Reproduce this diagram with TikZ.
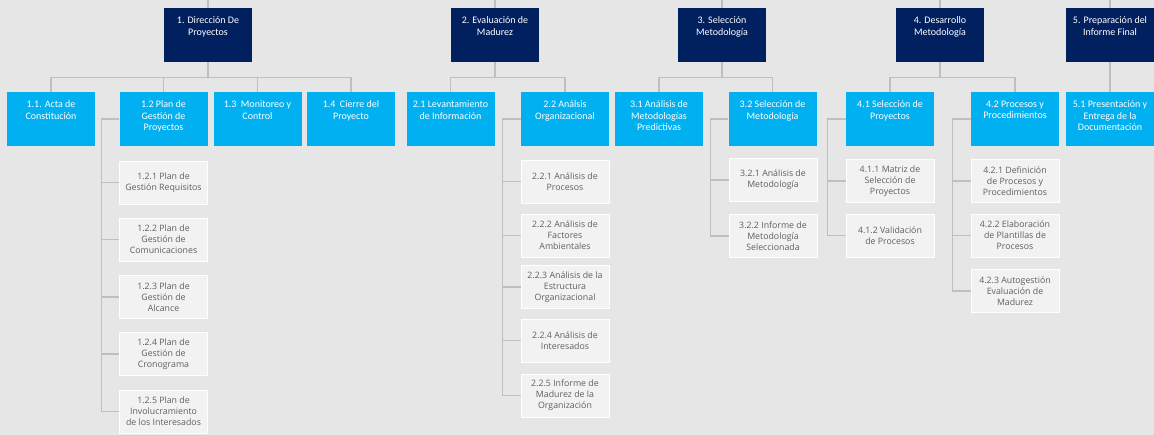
\documentclass[tikz,border=0pt]{standalone}
\usepackage{fontspec}
\setmainfont{Carlito}
\newfontfamily\subfont{Open Sans}
\usetikzlibrary{positioning, calc}

\definecolor{pagebg}{HTML}{E7E6E6}
\definecolor{navy}{HTML}{002060}
\definecolor{skyblue}{HTML}{00B0F0}
\definecolor{subfill}{HTML}{F2F2F2}
\definecolor{linegray}{HTML}{BFBFBF}
\definecolor{subtext}{HTML}{5F5F5F}

\newcommand{\toptext}[1]{\parbox[c][54pt][t]{88pt}{\centering\vspace*{9pt}#1}}

\begin{document}
\begin{tikzpicture}[x=1pt, y=-1pt,
    mainbox/.style={fill=navy, text=white, inner sep=0pt, minimum width=88pt, minimum height=54pt, font=\fontsize{10}{11.5}\selectfont},
    phasebox/.style={mainbox, fill=skyblue},
    workbox/.style={fill=subfill, draw=white, line width=0.6pt, text=subtext, inner sep=0pt, minimum width=88pt, minimum height=43pt, align=center, font=\subfont\fontsize{8.8}{11}\selectfont},
    conn/.style={draw=linegray, line width=1.3pt}]
        % Background
        \fill[pagebg] (0,0) rectangle (1154,435);
        \useasboundingbox (0,0) rectangle (1154,435);
        \coordinate (top) at (0,0);

        % Level 1
        \node[mainbox] (d1) at (208,35) {\toptext{1. Dirección De\\Proyectos}};
        \node[mainbox] (d2) at (495,35) {\toptext{2. Evaluación de\\Madurez}};
        \node[mainbox] (d3) at (722,35) {\toptext{3. Selección\\Metodología}};
        \node[mainbox] (d4) at (940,35) {\toptext{4. Desarrollo\\Metodología}};
        \node[mainbox] (d5) at (1110,35) {\toptext{5. Preparación del\\Informe Final}};

        % Level 2
        \node[phasebox] (a11) at (51,119) {\toptext{1.1. Acta de\\Constitución}};
        \node[phasebox] (a12) at (163.5,119) {\toptext{1.2 Plan de\\Gestión de\\Proyectos}};
        \node[phasebox] (a13) at (257.5,119) {\toptext{1.3~ Monitoreo y\\Control}};
        \node[phasebox] (a14) at (351,119) {\toptext{1.4~ Cierre del\\Proyecto}};
        \node[phasebox] (a21) at (450.5,119) {\toptext{2.1 Levantamiento\\de Información}};
        \node[phasebox] (a22) at (565,119) {\toptext{2.2 Análsis\\Organizacional}};
        \node[phasebox] (a31) at (659,119) {\toptext{3.1 Análisis de\\Metodologías\\Predictivas}};
        \node[phasebox] (a32) at (772.5,119) {\toptext{3.2 Selección de\\Metodología}};
        \node[phasebox] (a41) at (890,119) {\toptext{4.1 Selección de\\Proyectos}};
        \node[phasebox] (a42) at (1015,119) {\toptext{4.2 Procesos y\\Procedimientos}};
        \node[phasebox] (a51) at (1110,119) {\toptext{5.1 Presentación y\\Entrega de la\\Documentación}};

        % Level 3
        \node[workbox] (b121) at (163.5,182.5) {1.2.1 Plan de\\Gestión Requisitos};
        \node[workbox] (b122) at (163.5,239.5) {1.2.2 Plan de\\Gestión de\\Comunicaciones};
        \node[workbox] (b123) at (163.5,297) {1.2.3 Plan de\\Gestión de\\Alcance};
        \node[workbox] (b124) at (163.5,354) {1.2.4 Plan de\\Gestión de\\Cronograma};
        \node[workbox] (b125) at (163.5,411.5) {1.2.5 Plan de\\Involucramiento\\de los Interesados};

        \node[workbox] (b221) at (565,181.5) {2.2.1 Análisis de\\Procesos};
        \node[workbox] (b222) at (565,235.5) {2.2.2 Análisis de\\Factores\\Ambientales};
        \node[workbox] (b223) at (565,287) {2.2.3 Análisis de la\\Estructura\\Organizacional};
        \node[workbox] (b224) at (565,340.5) {2.2.4 Análisis de\\Interesados};
        \node[workbox] (b225) at (565,395.5) {2.2.5 Informe de\\Madurez de la\\Organización};

        \node[workbox] (b321) at (773,180) {3.2.1 Análisis de\\Metodología};
        \node[workbox] (b322) at (773,236) {3.2.2 Informe de\\Metodología\\Seleccionada};

        \node[workbox] (b411) at (890,181) {4.1.1 Matriz de\\Selección de\\Proyectos};
        \node[workbox] (b412) at (890,235.5) {4.1.2 Validación\\de Procesos};

        \node[workbox] (b421) at (1015,181) {4.2.1 Definición\\de Procesos y\\Procedimientos};
        \node[workbox] (b422) at (1015,235.5) {4.2.2 Elaboración\\de Plantillas de\\Procesos};
        \node[workbox] (b423) at (1015,291) {4.2.3 Autogestión\\Evaluación de\\Madurez};

        % Connectors
        \foreach \n in {d1,d2,d3,d4,d5}
            \draw[conn] (\n.north) -- (\n.north |- top);
        \foreach \p/\c in {d1/a11, d1/a12, d1/a13, d1/a14, d2/a21, d2/a22, d3/a31, d3/a32, d4/a41, d4/a42}
            \draw[conn] (\p.south) |- ([yshift=14pt]\c.north) -- (\c.north);
        \draw[conn] (d5.south) -- (a51.north);
        \foreach \p/\c in {a12/b121, a12/b122, a12/b123, a12/b124, a12/b125,
                           a22/b221, a22/b222, a22/b223, a22/b224, a22/b225,
                           a32/b321, a32/b322, a41/b411, a41/b412,
                           a42/b421, a42/b422, a42/b423}
            \draw[conn] (\p.west) -| ([xshift=-18pt]\c.west) -- (\c.west);
    \end{tikzpicture}
\end{document}
